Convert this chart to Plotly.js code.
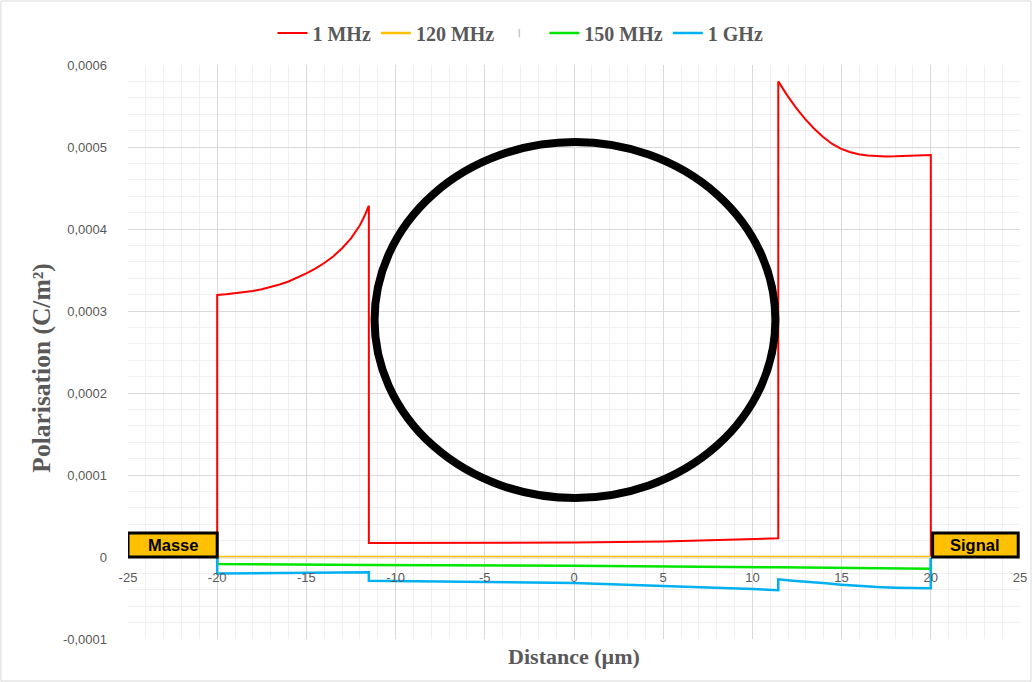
<!DOCTYPE html>
<html>
<head>
<meta charset="utf-8">
<script src="https://cdn.plot.ly/plotly-3.0.1.min.js"></script>
<style>html,body{margin:0;padding:0;background:#fff;}#chart{width:1032px;height:682px;}</style>
</head>
<body>
<div id="chart"></div>
<script>
// ---- data ----
const seriesNames = ["1 MHz", "120 MHz", "150 MHz", "1 GHz"];

const x1MHz = [-20, -20, -19.5, -19, -18.5, -18, -17.5, -17, -16.5, -16, -15.5, -15, -14.5, -14, -13.5, -13, -12.5, -12.25, -12, -11.75, -11.5,
               -11.5, -10, -5, 0, 5, 10, 11.45,
               11.45, 11.95, 12.45, 12.95, 13.45, 13.95, 14.45, 14.95, 15.45, 15.95, 16.45, 16.95, 17.5, 18, 19, 20, 20];
const y1MHz = [0, 0.0003195, 0.0003203, 0.0003214, 0.0003228, 0.0003245, 0.0003266, 0.0003292, 0.0003323, 0.000336, 0.0003405, 0.0003458, 0.0003518, 0.0003585, 0.0003665, 0.0003765, 0.0003885, 0.000396, 0.0004045, 0.0004155, 0.0004284,
               0.000017, 0.0000171, 0.0000173, 0.0000176, 0.000019, 0.0000213, 0.0000228,
               0.00058, 0.000563, 0.0005478, 0.0005343, 0.0005226, 0.0005125, 0.000504, 0.000498, 0.000494, 0.0004912, 0.0004896, 0.0004887, 0.0004885, 0.0004886, 0.000489, 0.0004902, 0];

const x120MHz = [-20, -10, 0, 10, 20];
const y120MHz = [0, 0, 0, 0, 0];

const x150MHz = [-20, -20, -11.5, 0, 11.45, 20, 20];
const y150MHz = [0, -0.0000085, -0.0000097, -0.0000106, -0.0000126, -0.0000143, 0];

const x1GHz = [-20, -20, -11.5, -11.5, 0, 5, 10, 11.45, 11.45, 12.26, 13, 14.13, 15, 16, 17, 18, 19, 20, 20];
const y1GHz = [0, -0.00002, -0.0000187, -0.0000289, -0.0000317, -0.000035, -0.000039, -0.0000404, -0.0000272, -0.0000289, -0.0000305, -0.0000321, -0.0000337, -0.0000354, -0.0000366, -0.0000374, -0.000038, -0.0000382, 0];

const xTickVals = [-25, -20, -15, -10, -5, 0, 5, 10, 15, 20, 25];
const xTickText = ["-25", "-20", "-15", "-10", "-5", "0", "5", "10", "15", "20", "25"];
const yTickVals = [-0.0001, 0, 0.0001, 0.0002, 0.0003, 0.0004, 0.0005, 0.0006];
const yTickText = ["-0,0001", "0", "0,0001", "0,0002", "0,0003", "0,0004", "0,0005", "0,0006"];

// ellipse (wire cross-section) extents in data units
const ellipseX = [-11.18, 11.29];
const ellipseY = [0.000072, 0.000506];

// electrode labels
const electrodeLabels = ["Masse", "Signal"];
const electrodeX = [[-25, -20], [20.1, 24.9]];
const electrodeY = [0, 0.0000293];

const colors = ["#FF0000", "#FFC000", "#00E600", "#00B0F0"];

const traces = [
  {x: x1MHz, y: y1MHz, name: seriesNames[0], mode: "lines", line: {color: colors[0], width: 2}},
  {x: x120MHz, y: y120MHz, name: seriesNames[1], mode: "lines", line: {color: colors[1], width: 2.5}},
  {x: [null], y: [null], name: "", mode: "markers", marker: {color: "#c8c8c8", size: 6, symbol: "line-ns", line: {color: "#c8c8c8", width: 1.5}}, hoverinfo: "skip"},
  {x: x150MHz, y: y150MHz, name: seriesNames[2], mode: "lines", line: {color: colors[2], width: 2.5}},
  {x: x1GHz, y: y1GHz, name: seriesNames[3], mode: "lines", line: {color: colors[3], width: 2.5}}
];

const L = 128, R = 12, T = 65, B = 43;
const pw = 1032 - L - R, ph = 682 - T - B;

const shapes = [
  {type: "circle", xref: "x", yref: "y", x0: ellipseX[0], x1: ellipseX[1], y0: ellipseY[0], y1: ellipseY[1], line: {color: "#000000", width: 8}, layer: "above"},
  {type: "rect", xref: "paper", yref: "paper", x0: -L/pw + 0.001, x1: 1 + (R - 1)/pw, y0: -(B - 1)/ph, y1: 1 + (T - 1)/ph, line: {color: "#d9d9d9", width: 1}, layer: "below"}
];
const annotations = [];
electrodeLabels.forEach((lab, i) => {
  shapes.push({type: "rect", xref: "x", yref: "y", x0: electrodeX[i][0], x1: electrodeX[i][1], y0: electrodeY[0], y1: electrodeY[1], fillcolor: "#FFC000", line: {color: "#000000", width: 3}, layer: "above"});
  annotations.push({xref: "x", yref: "y", x: (electrodeX[i][0] + electrodeX[i][1]) / 2, y: (electrodeY[0] + electrodeY[1]) / 2, text: "<b>" + lab + "</b>", showarrow: false, font: {family: "Liberation Sans, Arial, sans-serif", size: 16.5, color: "#000000"}});
});

const layout = {
  width: 1032, height: 682,
  margin: {l: L, r: R, t: T, b: B, pad: 0},
  paper_bgcolor: "#ffffff", plot_bgcolor: "#ffffff",
  showlegend: true,
  legend: {orientation: "h", x: 0.44, xanchor: "center", y: 1 + 32/ph, yanchor: "middle",
    font: {family: "Liberation Serif, Times New Roman, serif", size: 20, color: "#595959", weight: "bold"},
    bgcolor: "rgba(0,0,0,0)"},
  xaxis: {
    range: [-25, 25], anchor: "free", position: 1/7,
    tickmode: "array", tickvals: xTickVals, ticktext: xTickText,
    showgrid: true, gridcolor: "#d9d9d9", gridwidth: 1,
    minor: {tickmode: "linear", tick0: 0, dtick: 1, showgrid: true, gridcolor: "#f0f0f0", gridwidth: 1},
    zeroline: false, showline: true, linecolor: "#d9d9d9", linewidth: 1,
    ticks: "", ticklabelstandoff: 8,
    tickfont: {family: "Liberation Sans, Arial, sans-serif", size: 13, color: "#595959"},
    title: {text: "<b>Distance (µm)</b>", standoff: 65, font: {family: "Liberation Serif, Times New Roman, serif", size: 22, color: "#595959"}}
  },
  yaxis: {
    range: [-0.0001, 0.0006],
    tickmode: "array", tickvals: yTickVals, ticktext: yTickText,
    showgrid: true, gridcolor: "#d9d9d9", gridwidth: 1,
    minor: {tickmode: "linear", tick0: 0, dtick: 0.00002, showgrid: true, gridcolor: "#f0f0f0", gridwidth: 1},
    zeroline: false, showline: false,
    ticks: "", ticklabelstandoff: 20,
    tickfont: {family: "Liberation Sans, Arial, sans-serif", size: 13, color: "#595959"},
    title: {text: "<b>Polarisation (C/m²)</b>&nbsp;&nbsp;&nbsp;&nbsp;&nbsp;", standoff: 4, font: {family: "Liberation Serif, Times New Roman, serif", size: 25.5, color: "#595959"}}
  },
  shapes: shapes,
  annotations: annotations
};

Plotly.newPlot("chart", traces, layout, {displayModeBar: false, staticPlot: true});
</script>
</body>
</html>
